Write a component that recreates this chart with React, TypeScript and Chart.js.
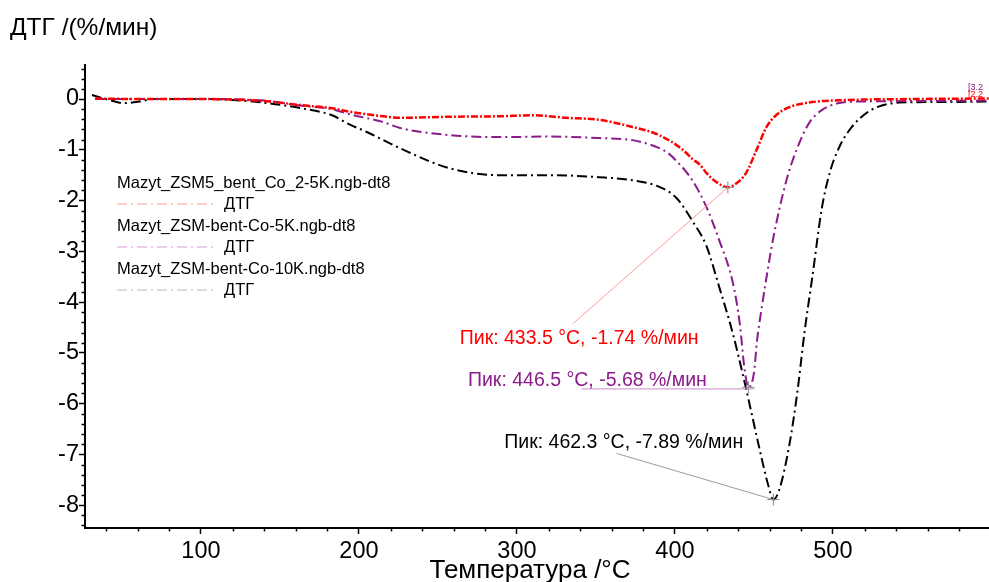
import React, { useEffect, useRef } from 'react';
import { Chart, registerables } from 'chart.js';
Chart.register(...registerables);

const FONT = '"Liberation Sans", Arial, sans-serif';

// ---- data ----
const seriesNames = [
  'Mazyt_ZSM5_bent_Co_2-5K.ngb-dt8',
  'Mazyt_ZSM-bent-Co-5K.ngb-dt8',
  'Mazyt_ZSM-bent-Co-10K.ngb-dt8',
];
const seriesSub = 'ДТГ';

const tempRed = [33, 60, 100, 140, 163, 183, 194, 210, 226, 257, 289, 310, 331, 352, 373, 390, 405, 411, 416, 420, 426, 433.5, 439, 445, 451.7, 458, 464, 472.5, 487, 508.6, 550, 600];
const dtgRed = [0.01, 0, 0, -0.04, -0.12, -0.18, -0.25, -0.32, -0.37, -0.35, -0.34, -0.32, -0.37, -0.41, -0.55, -0.71, -1.0, -1.18, -1.3, -1.46, -1.63, -1.74, -1.66, -1.46, -1.0, -0.55, -0.32, -0.16, -0.06, -0.02, 0, 0.01];

const tempPurple = [33, 60, 100, 140, 163, 183, 194, 215, 226, 257, 289, 321, 352, 373, 388, 395, 401, 411, 420, 428, 436.5, 441, 444, 446.5, 450, 452, 455, 457, 462, 470.6, 477, 485, 493, 504, 517, 560, 600];
const dtgPurple = [0, 0, 0, -0.03, -0.13, -0.2, -0.3, -0.45, -0.57, -0.71, -0.75, -0.74, -0.77, -0.81, -0.94, -1.05, -1.22, -1.6, -2.13, -2.78, -3.6, -4.41, -5.3, -5.68, -5.4, -4.75, -4.1, -3.7, -2.78, -1.6, -1.0, -0.47, -0.22, -0.08, -0.05, -0.04, -0.03];

const tempBlack = [31, 42, 51, 61, 70, 100, 120, 142, 163, 183, 194, 205, 226, 257, 289, 321, 352, 373, 390, 401, 411, 420, 428, 436.5, 445, 453.6, 459, 462.3, 466, 472.5, 477.6, 482, 487, 493, 498, 504, 512, 521, 528, 542, 563, 600];
const dtgBlack = [0.08, -0.02, -0.08, -0.05, 0, 0, -0.02, -0.08, -0.18, -0.32, -0.5, -0.65, -0.97, -1.36, -1.5, -1.5, -1.54, -1.6, -1.73, -1.95, -2.4, -2.9, -3.7, -4.6, -5.7, -6.9, -7.6, -7.89, -7.7, -6.8, -5.75, -4.6, -3.5, -2.15, -1.45, -0.95, -0.55, -0.28, -0.16, -0.07, -0.06, -0.05];

const peakT = [433.5, 446.5, 462.3];
const peakV = [-1.74, -5.68, -7.89];
const peakLabels = ['Пик: 433.5 °C, -1.74 %/мин', 'Пик: 446.5 °C, -5.68 %/мин', 'Пик: 462.3 °C, -7.89 %/мин'];
const labelT = [263.8, 269.0, 292.0];
const labelV = [-4.72, -5.55, -6.77];
const leaderStartT = [335.3, 341.0, 363.0];
const leaderStartV = [-4.43, -5.71, -6.98];
const leaderEndT = [433.5, 450.4, 462.3];
const leaderEndV = [-1.74, -5.71, -7.89];

const xTicks = [100, 200, 300, 400, 500];
const yTicks = [0, -1, -2, -3, -4, -5, -6, -7, -8];
const X_MIN = 26.6;
const X_MAX = 598.8;
const Y_MIN = -8.45;
const Y_MAX = 0.67;
const X_MINOR = 20;
const Y_MINOR = 0.2;

const xTitle = 'Температура /°C';
const yTitle = 'ДТГ /(%/мин)';

// ---- styles ----
const lineColors = ['#ff0000', '#8b1a8b', '#000000'];
const legendColors = ['#ff9a9a', '#d69ad6', '#b8b8b8'];
const leaderColors = ['#ff9a9a', '#c98cc9', '#9a9a9a'];
const labelColors = ['#ff0000', '#8b1a8b', '#000000'];

const toPts = (xs: number[], ys: number[]) => xs.map((x, i) => ({ x, y: ys[i] }));

const extras = {
  id: 'extras',
  afterDatasetsDraw(chart: any) {
    const { ctx, chartArea, scales } = chart;
    const x = scales.x;
    const y = scales.y;
    ctx.save();
    // minor ticks
    ctx.strokeStyle = '#000';
    ctx.lineWidth = 1.5;
    for (let i = Math.ceil(Y_MIN / Y_MINOR); i <= Math.floor(Y_MAX / Y_MINOR); i++) {
      if (i % 5 === 0) continue;
      const py = Math.round(y.getPixelForValue(i * Y_MINOR)) + 0.5;
      ctx.beginPath();
      ctx.moveTo(chartArea.left, py);
      ctx.lineTo(chartArea.left - 3.5, py);
      ctx.stroke();
    }
    for (let i = Math.ceil(X_MIN / X_MINOR); i <= Math.floor(X_MAX / X_MINOR); i++) {
      if (i % 5 === 0) continue;
      const px = Math.round(x.getPixelForValue(i * X_MINOR)) + 0.5;
      ctx.beginPath();
      ctx.moveTo(px, chartArea.bottom);
      ctx.lineTo(px, chartArea.bottom + 3.5);
      ctx.stroke();
    }
    // peak annotations
    for (let k = 0; k < peakT.length; k++) {
      const sx = x.getPixelForValue(leaderStartT[k]);
      const sy = y.getPixelForValue(leaderStartV[k]);
      const ex = x.getPixelForValue(leaderEndT[k]);
      const ey = y.getPixelForValue(leaderEndV[k]);
      ctx.strokeStyle = leaderColors[k];
      ctx.lineWidth = 1;
      ctx.beginPath();
      ctx.moveTo(sx, sy);
      ctx.lineTo(ex, ey);
      ctx.stroke();
      const px = x.getPixelForValue(peakT[k]);
      const py = y.getPixelForValue(peakV[k]);
      ctx.strokeStyle = '#8a8a8a';
      ctx.beginPath();
      ctx.moveTo(px - 6, py);
      ctx.lineTo(px + 6, py);
      ctx.moveTo(px, py - 6);
      ctx.lineTo(px, py + 6);
      ctx.stroke();
      ctx.fillStyle = labelColors[k];
      ctx.font = `19.5px ${FONT}`;
      ctx.textAlign = 'left';
      ctx.textBaseline = 'middle';
      ctx.fillText(peakLabels[k], x.getPixelForValue(labelT[k]), y.getPixelForValue(labelV[k]));
    }
    ctx.restore();
  },
  afterDraw(chart: any) {
    const { ctx } = chart;
    ctx.save();
    // axis titles
    ctx.fillStyle = '#000';
    ctx.font = `24.5px ${FONT}`;
    ctx.textBaseline = 'middle';
    ctx.textAlign = 'left';
    ctx.fillText(yTitle, 10, 28);
    ctx.font = `26px ${FONT}`;
    ctx.textAlign = 'center';
    ctx.fillText(xTitle, 530, 571);
    // legend
    const lx = 117;
    const rowTop = 183;
    const rowStep = 43;
    for (let k = 0; k < seriesNames.length; k++) {
      const ty = rowTop + k * rowStep;
      ctx.fillStyle = '#000';
      ctx.font = `16.5px ${FONT}`;
      ctx.textAlign = 'left';
      ctx.fillText(seriesNames[k], lx, ty);
      const ly = ty + 21;
      ctx.strokeStyle = legendColors[k];
      ctx.lineWidth = 1;
      ctx.setLineDash([10, 4, 2, 4]);
      ctx.beginPath();
      ctx.moveTo(lx, ly);
      ctx.lineTo(lx + 100, ly);
      ctx.stroke();
      ctx.setLineDash([]);
      ctx.fillText(seriesSub, lx + 107, ly);
    }
    // tiny clipped tags at right edge
    ctx.font = `9px ${FONT}`;
    ctx.fillStyle = '#8b1a8b';
    ctx.fillText('[3.2', 968, 88);
    ctx.fillStyle = '#ff0000';
    ctx.fillText('[2.2', 968, 95);
    ctx.restore();
  },
};

export default function App() {
  const ref = useRef<HTMLCanvasElement>(null);
  useEffect(() => {
    const mk = (label: string, xs: number[], ys: number[], color: string, dash: number[], w: number) => ({
      label,
      data: toPts(xs, ys),
      borderColor: color,
      backgroundColor: color,
      borderWidth: w,
      borderDash: dash,
      pointRadius: 0,
      fill: false,
      cubicInterpolationMode: 'monotone' as const,
    });
    const chart = new Chart(ref.current!, {
      type: 'line',
      data: {
        datasets: [
          mk(seriesNames[0], tempRed, dtgRed, lineColors[0], [7, 2, 2, 2], 2.5),
          mk(seriesNames[1], tempPurple, dtgPurple, lineColors[1], [10, 4, 2, 4], 2),
          mk(seriesNames[2], tempBlack, dtgBlack, lineColors[2], [10, 4, 2, 4], 2),
        ],
      },
      options: {
        animation: false,
        responsive: false,
        maintainAspectRatio: false,
        layout: { padding: { top: 65, left: 0, right: 0, bottom: 0 } },
        plugins: {
          legend: { display: false },
          tooltip: { enabled: false },
          title: { display: false },
        },
        scales: {
          x: {
            type: 'linear',
            min: X_MIN,
            max: X_MAX,
            afterFit: (s: any) => { s.height = 54; },
            afterBuildTicks: (s: any) => { s.ticks = xTicks.map((v) => ({ value: v })); },
            grid: { drawOnChartArea: false, drawTicks: true, tickLength: 6, tickColor: '#000', tickWidth: 1.5 },
            border: { display: true, color: '#000', width: 2 },
            ticks: { font: { family: FONT, size: 23.5 }, color: '#000', padding: 3, maxRotation: 0, autoSkip: false },
          },
          y: {
            type: 'linear',
            min: Y_MIN,
            max: Y_MAX,
            afterFit: (s: any) => { s.width = 85; },
            afterBuildTicks: (s: any) => { s.ticks = yTicks.map((v) => ({ value: v })); },
            grid: { drawOnChartArea: false, drawTicks: true, tickLength: 6, tickColor: '#000', tickWidth: 1.5 },
            border: { display: true, color: '#000', width: 2 },
            ticks: { font: { family: FONT, size: 23.5 }, color: '#000', padding: 0, autoSkip: false },
          },
        },
      },
      plugins: [extras],
    });
    return () => chart.destroy();
  }, []);
  return (
    <div style={{ position: 'fixed', left: 0, top: 0, width: 989, height: 582, background: '#fff' }}>
      <canvas ref={ref} width={989} height={582} style={{ display: 'block' }} />
    </div>
  );
}
